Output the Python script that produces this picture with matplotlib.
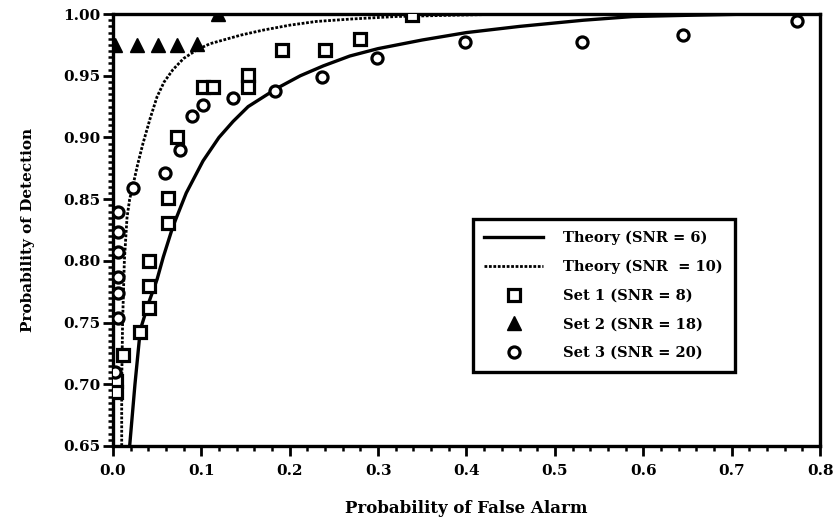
import numpy as np
import matplotlib
matplotlib.use("Agg")
from matplotlib import pyplot as plt
from matplotlib.ticker import MultipleLocator

# === DATI ===
theory6_x = [0.019, 0.025, 0.031, 0.040, 0.050, 0.057, 0.068, 0.083, 0.102, 0.120,
             0.136, 0.153, 0.186, 0.212, 0.238, 0.268, 0.300, 0.350, 0.400, 0.460,
             0.532, 0.588, 0.650, 0.720, 0.800]
theory6_y = [0.650, 0.700, 0.744, 0.765, 0.785, 0.803, 0.828, 0.855, 0.881, 0.900,
             0.913, 0.925, 0.940, 0.950, 0.958, 0.966, 0.972, 0.979, 0.985, 0.990,
             0.995, 0.998, 0.999, 1.000, 1.000]

theory10_x = [0.010, 0.010, 0.011, 0.013, 0.016, 0.019, 0.023, 0.028, 0.034, 0.042,
              0.050, 0.058, 0.068, 0.080, 0.095, 0.110, 0.125, 0.145, 0.170, 0.200,
              0.230, 0.270, 0.320, 0.380, 0.450, 0.600, 0.800]
theory10_y = [0.650, 0.700, 0.750, 0.800, 0.835, 0.850, 0.862, 0.878, 0.895, 0.915,
              0.933, 0.945, 0.955, 0.964, 0.971, 0.976, 0.979, 0.983, 0.987, 0.991,
              0.994, 0.996, 0.998, 0.999, 1.000, 1.000, 1.000]

set1_x = [0.003, 0.003, 0.011, 0.031, 0.041, 0.041, 0.041, 0.062, 0.062, 0.072,
          0.102, 0.113, 0.153, 0.153, 0.191, 0.240, 0.279, 0.338]
set1_y = [0.703, 0.694, 0.724, 0.742, 0.762, 0.780, 0.800, 0.831, 0.851, 0.900,
          0.941, 0.941, 0.951, 0.941, 0.971, 0.971, 0.980, 0.999]

set2_x = [0.002, 0.027, 0.051, 0.072, 0.095, 0.119]
set2_y = [0.975, 0.975, 0.975, 0.975, 0.976, 1.000]

set3_x = [0.002, 0.006, 0.006, 0.006, 0.006, 0.006, 0.006, 0.023, 0.059, 0.076,
          0.089, 0.102, 0.136, 0.183, 0.236, 0.299, 0.398, 0.531, 0.645, 0.774]
set3_y = [0.710, 0.754, 0.774, 0.787, 0.807, 0.823, 0.840, 0.859, 0.871, 0.890,
          0.917, 0.926, 0.932, 0.938, 0.949, 0.964, 0.977, 0.977, 0.983, 0.994]

x_ticks = [0.0, 0.1, 0.2, 0.3, 0.4, 0.5, 0.6, 0.7, 0.8]
y_ticks = [0.65, 0.70, 0.75, 0.80, 0.85, 0.90, 0.95, 1.00]

# === GRAFICO ===
plt.rcParams['font.family'] = ['DejaVu Serif']
plt.rcParams['font.weight'] = 'bold'

fig = plt.figure(figsize=(8.36, 5.21), dpi=100)
ax = fig.add_axes([0.135, 0.144, 0.846, 0.829])

ax.plot(theory6_x, theory6_y, color='black', lw=2.4, label='Theory (SNR = 6)', zorder=3)
ax.plot(theory10_x, theory10_y, color='black', lw=2.0, ls=(0, (1, 0.6)),
        label='Theory (SNR  = 10)', zorder=3)
ax.plot(set1_x, set1_y, ls='none', marker='s', ms=8, mfc='white', mec='black', mew=2.3,
        label='Set 1 (SNR = 8)', zorder=4)
ax.plot(set2_x, set2_y, ls='none', marker='^', ms=10, mfc='black', mec='black',
        label='Set 2 (SNR = 18)', zorder=4)
ax.plot(set3_x, set3_y, ls='none', marker='o', ms=8, mfc='white', mec='black', mew=2.3,
        label='Set 3 (SNR = 20)', zorder=4)

ax.set_xlim(0, 0.8)
ax.set_ylim(0.65, 1.0)
ax.set_xticks(x_ticks)
ax.set_yticks(y_ticks)
ax.set_xticklabels([f'{v:.1f}' for v in x_ticks])
ax.set_yticklabels([f'{v:.2f}' for v in y_ticks])
ax.xaxis.set_minor_locator(MultipleLocator(0.02))
ax.yaxis.set_minor_locator(MultipleLocator(0.005))
ax.tick_params(which='major', direction='out', length=7, width=2, labelsize=11)
ax.tick_params(which='minor', direction='out', length=3.5, width=1.8)
ax.tick_params(axis='x', top=False, pad=6)
ax.tick_params(axis='y', right=False, pad=2)
for s in ax.spines.values():
    s.set_linewidth(2.4)

ax.set_xlabel('Probability of False Alarm', fontsize=12, fontweight='bold', labelpad=16)
ax.set_ylabel('Probability of Detection', fontsize=11, fontweight='bold', labelpad=20)

leg = ax.legend(loc='lower right', bbox_to_anchor=(0.879, 0.172), fontsize=10.5,
                frameon=True, fancybox=False, edgecolor='black', framealpha=1,
                handlelength=4.0, borderpad=0.8, labelspacing=1.0, handletextpad=1.4,
                borderaxespad=0)
leg.get_frame().set_linewidth(2.4)

plt.savefig('out.png', dpi=100)
plt.close()
